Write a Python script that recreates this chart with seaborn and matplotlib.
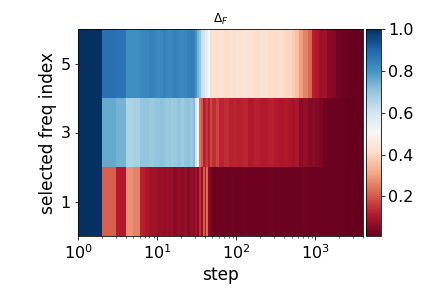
import numpy as np
import pandas as pd
import matplotlib
matplotlib.use("Agg")
import matplotlib.pyplot as plt
import seaborn as sns

# segment start steps (last entry = end of final segment)
step_edges = [1, 2, 3, 4, 5, 6, 7, 8, 9, 10, 11, 12, 13, 14, 15, 16, 18, 20, 22, 24,
              26, 28, 30, 32, 34, 36, 38, 40, 42, 44, 47, 50, 55, 60, 70, 80, 90, 100,
              120, 140, 170, 200, 250, 300, 350, 400, 450, 500, 560, 620, 700, 800, 900,
              1000, 1100, 1250, 1400, 1600, 1800, 2100, 2500, 3000, 4000]
freq_index = [1, 3, 5]
row_edges = [0, 2, 4, 6]

delta_f5 = [1.00, 0.88, 0.87, 0.81, 0.81, 0.83, 0.83, 0.84, 0.83, 0.82, 0.83, 0.84,
            0.83, 0.82, 0.83, 0.84, 0.83, 0.82, 0.83, 0.84, 0.85, 0.84, 0.80, 0.74,
            0.70, 0.62, 0.60, 0.56, 0.55, 0.52, 0.42, 0.43, 0.42, 0.43, 0.42, 0.43,
            0.42, 0.43, 0.44, 0.43, 0.42, 0.43, 0.42, 0.41, 0.42, 0.40, 0.40, 0.38,
            0.36, 0.30, 0.26, 0.22, 0.12, 0.11, 0.08, 0.09, 0.06, 0.05, 0.03, 0.02,
            0.015, 0.012]
delta_f3 = [1.00, 0.76, 0.74, 0.66, 0.67, 0.70, 0.70, 0.69, 0.70, 0.70, 0.71, 0.70,
            0.69, 0.70, 0.68, 0.69, 0.70, 0.68, 0.70, 0.71, 0.69, 0.72, 0.60, 0.52,
            0.24, 0.20, 0.12, 0.13, 0.16, 0.12, 0.18, 0.14, 0.17, 0.13, 0.14, 0.12,
            0.13, 0.12, 0.13, 0.11, 0.12, 0.11, 0.12, 0.11, 0.10, 0.11, 0.10, 0.09,
            0.10, 0.06, 0.07, 0.05, 0.06, 0.05, 0.04, 0.03, 0.02, 0.02, 0.015, 0.015,
            0.012, 0.012]
delta_f1 = [1.00, 0.21, 0.11, 0.28, 0.26, 0.12, 0.10, 0.09, 0.09, 0.08, 0.08, 0.07,
            0.08, 0.07, 0.08, 0.06, 0.07, 0.06, 0.07, 0.05, 0.07, 0.06, 0.09, 0.05,
            0.14, 0.08, 0.20, 0.12, 0.22, 0.06, 0.04, 0.02, 0.025, 0.02, 0.02, 0.025,
            0.02, 0.02, 0.025, 0.02, 0.02, 0.02, 0.025, 0.02, 0.02, 0.02, 0.02, 0.02,
            0.02, 0.02, 0.025, 0.02, 0.02, 0.02, 0.02, 0.02, 0.015, 0.015, 0.015,
            0.015, 0.012, 0.011]

rows = []
for f, vals in zip(freq_index, [delta_f1, delta_f3, delta_f5]):
    for a, b, v in zip(step_edges[:-1], step_edges[1:], vals):
        rows.append({"step": np.sqrt(a * b), "freq": f, "delta": v})
df = pd.DataFrame(rows)

fig = plt.figure(figsize=(6, 4), dpi=72)
ax = fig.add_axes([78 / 432, 52 / 288, 285 / 432, 207 / 288])
cax = fig.add_axes([366 / 432, 52 / 288, 15 / 432, 207 / 288])

sns.histplot(data=df, x="step", y="freq", weights="delta",
             log_scale=(True, False),
             bins=(np.log10(step_edges), row_edges),
             cmap="RdBu", vmin=0.011, vmax=1.0, thresh=None,
             cbar=True, cbar_ax=cax, ax=ax)

ax.set_xlim(step_edges[0], step_edges[-1])
ax.set_ylim(row_edges[0], row_edges[-1])
ax.set_yticks(freq_index)
ax.set_xlabel("step", fontsize=17)
ax.set_ylabel("selected freq index", fontsize=17)
ax.set_title(r"$\Delta_F$", fontsize=12)
ax.tick_params(axis="both", which="major", labelsize=16)
cax.tick_params(labelsize=16)

fig.savefig("out.png", dpi=72)
